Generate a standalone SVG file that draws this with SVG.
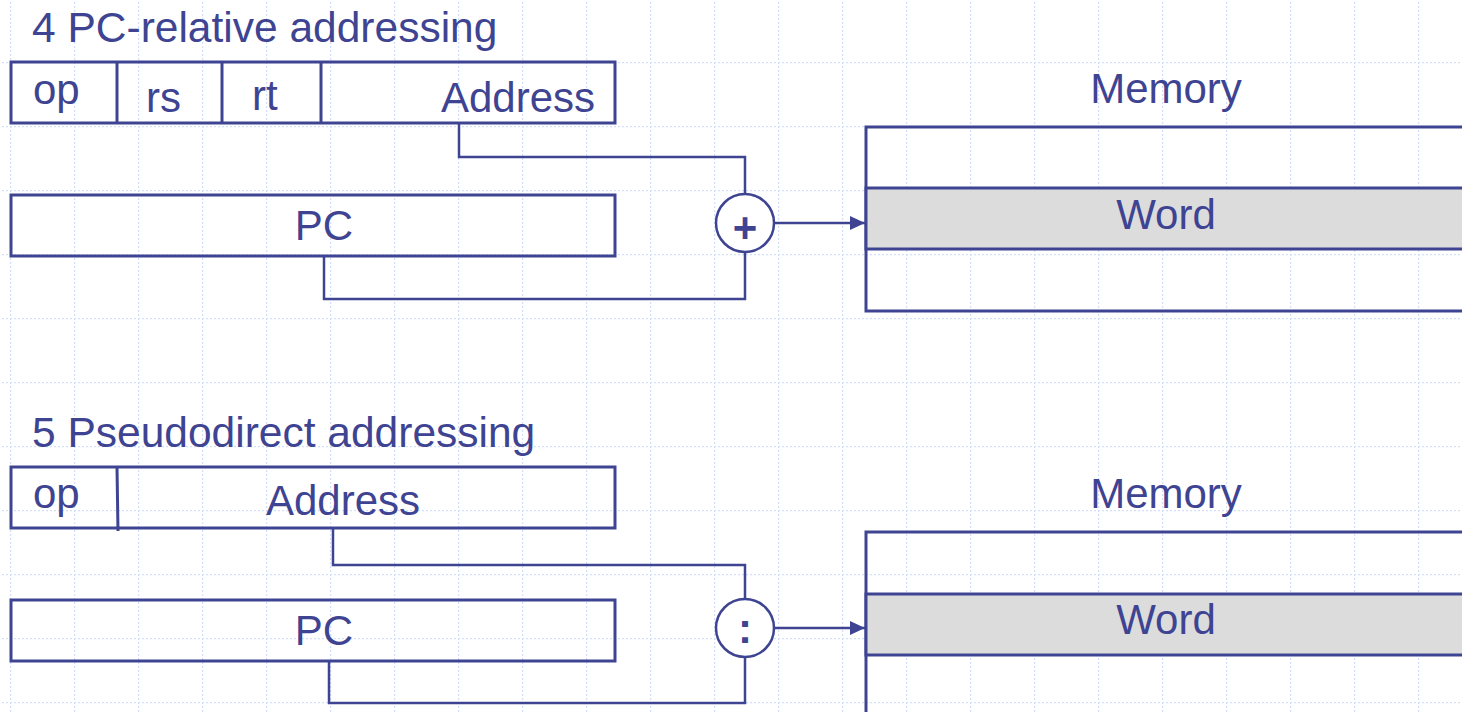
<svg xmlns="http://www.w3.org/2000/svg" width="1462" height="712" viewBox="0 0 1462 712">
<defs>
<style>
.t{font-family:"Liberation Sans",Arial,sans-serif;font-size:42px;fill:#3e4492}
.h{font-size:42.5px}
.s{font-weight:bold}
.b{fill:none;stroke:#3e4492;stroke-width:3}
.c{fill:none;stroke:#3e4492;stroke-width:2.5}
.op{fill:#ffffff;stroke:#3e4492;stroke-width:2.5}
.w{fill:#dcdcdc;stroke:#3e4492;stroke-width:3}
.g{stroke:#d2dff9;stroke-width:2.5;stroke-dasharray:2 2}
</style>
<pattern id="grid" x="10" y="62" width="64" height="64" patternUnits="userSpaceOnUse">
<line class="g" x1="0" y1="0" x2="0" y2="64"/>
<line class="g" x1="0" y1="0" x2="64" y2="0"/>
</pattern>
<marker id="arr" markerWidth="15" markerHeight="14" refX="15" refY="7" orient="auto" markerUnits="userSpaceOnUse">
<path d="M0,0 L15,7 L0,14 Z" fill="#3e4492"/>
</marker>
</defs>
<rect width="1462" height="712" fill="#ffffff"/>
<rect width="1462" height="712" fill="url(#grid)"/>

<g id="title4"><text class="t h" x="32" y="42">4 PC-relative addressing</text></g>
<g id="instr4">
<rect class="b" x="11" y="62" width="604" height="61"/>
<line class="b" x1="117" y1="62" x2="117" y2="123"/>
<line class="b" x1="222" y1="62" x2="222" y2="123"/>
<line class="b" x1="321" y1="62" x2="321" y2="123"/>
<text class="t" x="33" y="104">op</text>
<text class="t" x="146" y="112">rs</text>
<text class="t" x="252" y="110">rt</text>
<text class="t" x="441" y="112">Address</text>
</g>
<g id="pc4">
<rect class="b" x="11" y="195" width="604" height="61"/>
<text class="t" x="324" y="240" text-anchor="middle">PC</text>
</g>
<g id="mem4">
<text class="t" x="1166" y="103" text-anchor="middle">Memory</text>
<path class="b" d="M1470,127 H866 V311 H1470"/>
<rect class="w" x="866" y="188" width="604" height="61"/>
<text class="t" x="1166" y="229" text-anchor="middle">Word</text>
</g>

<g id="title5"><text class="t h" x="32" y="447">5 Pseudodirect addressing</text></g>
<g id="instr5">
<rect class="b" x="11" y="467" width="604" height="61"/>
<line class="b" x1="117" y1="467" x2="118" y2="531"/>
<text class="t" x="33" y="508">op</text>
<text class="t" x="343" y="515" text-anchor="middle">Address</text>
</g>
<g id="pc5">
<rect class="b" x="11" y="600" width="604" height="61"/>
<text class="t" x="324" y="645" text-anchor="middle">PC</text>
</g>
<g id="mem5">
<text class="t" x="1166" y="508" text-anchor="middle">Memory</text>
<path class="b" d="M1470,532 H866 V720"/>
<rect class="w" x="866" y="594" width="604" height="61"/>
<text class="t" x="1166" y="634" text-anchor="middle">Word</text>
</g>

<g id="connectors">
<polyline class="c" points="459,123 459,157 745,157 745,194"/>
<polyline class="c" points="324,256 324,299 745,299 745,252"/>
<line class="c" x1="774" y1="223" x2="865" y2="223" marker-end="url(#arr)"/>
<polyline class="c" points="333,528 333,565 745,565 745,599"/>
<polyline class="c" points="329,661 329,703 745,703 745,657"/>
<line class="c" x1="774" y1="628" x2="865" y2="628" marker-end="url(#arr)"/>
</g>

<g id="plus">
<circle class="op" cx="745" cy="223" r="29"/>
<text class="t s" x="745" y="242" text-anchor="middle">+</text>
</g>
<g id="concat">
<circle class="op" cx="745" cy="628" r="29"/>
<text class="t s" x="745" y="643" text-anchor="middle">:</text>
</g>
</svg>
